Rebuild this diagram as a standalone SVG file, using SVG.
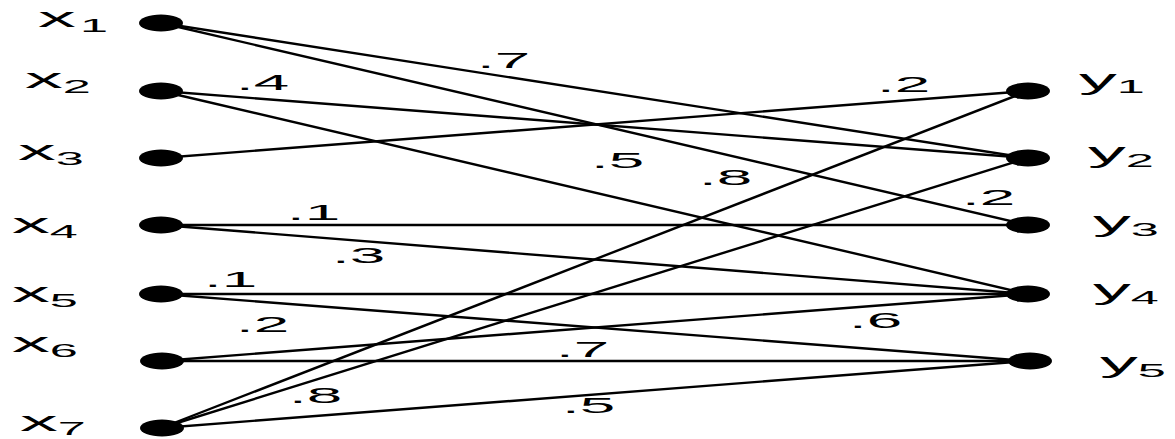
<svg xmlns="http://www.w3.org/2000/svg" width="1175" height="439" viewBox="0 0 1175 439">
<style>
.e{stroke:#000;stroke-width:2.4;fill:none}
.n{fill:#000}
.lbl{font-family:"Liberation Sans",Arial,sans-serif;font-size:27px;fill:#000}
.sub{font-size:18px}
.w{font-family:"Liberation Sans",Arial,sans-serif;font-size:22px;fill:#000}
</style>
<rect width="1175" height="439" fill="#fff"/>
<g id="connectors">
<line class="e" x1="161" y1="23" x2="1028" y2="158"/>
<line class="e" x1="161" y1="23" x2="1028" y2="225"/>
<line class="e" x1="161" y1="91" x2="1028" y2="158"/>
<line class="e" x1="161" y1="91" x2="1028" y2="294"/>
<line class="e" x1="161" y1="158" x2="1028" y2="91"/>
<line class="e" x1="161" y1="225" x2="1028" y2="225"/>
<line class="e" x1="161" y1="225" x2="1028" y2="294"/>
<line class="e" x1="161" y1="294" x2="1028" y2="294"/>
<line class="e" x1="161" y1="294" x2="1028" y2="361"/>
<line class="e" x1="161" y1="361" x2="1028" y2="294"/>
<line class="e" x1="161" y1="361" x2="1028" y2="361"/>
<line class="e" x1="161" y1="428" x2="1028" y2="91"/>
<line class="e" x1="161" y1="428" x2="1028" y2="158"/>
<line class="e" x1="161" y1="428" x2="1028" y2="361"/>
<g id="weights">
<text class="w" transform="translate(477,68) scale(2.9,1)">.7</text>
<text class="w" transform="translate(236,90) scale(2.9,1)">.4</text>
<text class="w" transform="translate(591,168) scale(2.9,1)">.5</text>
<text class="w" transform="translate(699,185) scale(2.9,1)">.8</text>
<text class="w" transform="translate(877,92) scale(2.9,1)">.2</text>
<text class="w" transform="translate(962,205) scale(2.9,1)">.2</text>
<text class="w" transform="translate(287,220) scale(2.9,1)">.1</text>
<text class="w" transform="translate(332,263) scale(2.9,1)">.3</text>
<text class="w" transform="translate(204,287) scale(2.9,1)">.1</text>
<text class="w" transform="translate(236,332) scale(2.9,1)">.2</text>
<text class="w" transform="translate(556,357) scale(2.9,1)">.7</text>
<text class="w" transform="translate(289,403) scale(2.9,1)">.8</text>
<text class="w" transform="translate(562,413) scale(2.9,1)">.5</text>
<text class="w" transform="translate(849,328) scale(2.9,1)">.6</text>
</g>
</g>
<g id="x1"><ellipse class="n" cx="161" cy="23" rx="22" ry="8.5"/><text class="lbl" transform="translate(38,27) scale(2.8,1)">x<tspan class="sub" dx="1.5" dy="5">1</tspan></text></g>
<g id="x2"><ellipse class="n" cx="161" cy="91" rx="22" ry="8.5"/><text class="lbl" transform="translate(25,88) scale(2.8,1)">x<tspan class="sub" dy="5">2</tspan></text></g>
<g id="x3"><ellipse class="n" cx="161" cy="158" rx="22" ry="8.5"/><text class="lbl" transform="translate(18,160) scale(2.8,1)">x<tspan class="sub" dy="5">3</tspan></text></g>
<g id="x4"><ellipse class="n" cx="161" cy="225" rx="22" ry="8.5"/><text class="lbl" transform="translate(12,233) scale(2.8,1)">x<tspan class="sub" dy="5">4</tspan></text></g>
<g id="x5"><ellipse class="n" cx="161" cy="294" rx="22" ry="8.5"/><text class="lbl" transform="translate(12,302) scale(2.8,1)">x<tspan class="sub" dy="5">5</tspan></text></g>
<g id="x6"><ellipse class="n" cx="162" cy="361" rx="22" ry="8.5"/><text class="lbl" transform="translate(12,352) scale(2.8,1)">x<tspan class="sub" dy="5">6</tspan></text></g>
<g id="x7"><ellipse class="n" cx="162" cy="428" rx="22" ry="8.5"/><text class="lbl" transform="translate(20,431) scale(2.8,1)">x<tspan class="sub" dy="4">7</tspan></text></g>
<g id="y1"><ellipse class="n" cx="1028" cy="91" rx="22" ry="8.5"/><text class="lbl" transform="translate(1079,89) scale(2.8,1)">y<tspan class="sub" dy="4">1</tspan></text></g>
<g id="y2"><ellipse class="n" cx="1028" cy="158" rx="22" ry="8.5"/><text class="lbl" transform="translate(1088,162) scale(2.8,1)">y<tspan class="sub" dy="5">2</tspan></text></g>
<g id="y3"><ellipse class="n" cx="1028" cy="225" rx="22" ry="8.5"/><text class="lbl" transform="translate(1093,231) scale(2.8,1)">y<tspan class="sub" dy="5">3</tspan></text></g>
<g id="y4"><ellipse class="n" cx="1028" cy="294" rx="22" ry="8.5"/><text class="lbl" transform="translate(1093,299) scale(2.8,1)">y<tspan class="sub" dy="5">4</tspan></text></g>
<g id="y5"><ellipse class="n" cx="1030" cy="361" rx="22" ry="8.5"/><text class="lbl" transform="translate(1100,372) scale(2.8,1)">y<tspan class="sub" dy="5">5</tspan></text></g>
</svg>
